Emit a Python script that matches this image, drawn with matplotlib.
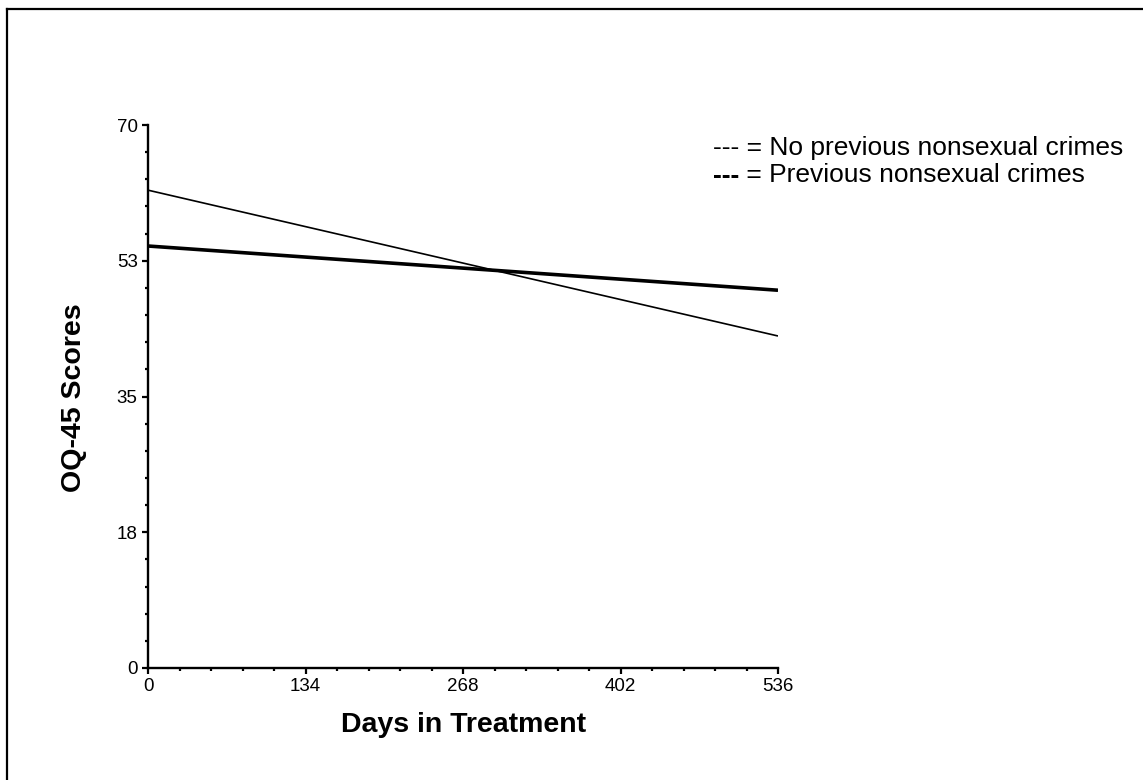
import matplotlib
matplotlib.use("Agg")
import matplotlib.pyplot as plt
from matplotlib.lines import Line2D
from matplotlib.ticker import MultipleLocator

plt.rcParams['font.family'] = ['Liberation Sans', 'DejaVu Sans']

# data (straight regression lines, end points)
days = [0, 536]
no_prev = [61.6, 42.8]      # thin line
prev = [54.4, 48.7]         # thick line

x_ticks = [0, 134, 268, 402, 536]
y_ticks = [0, 17.5, 35, 52.5, 70]
y_labels = ["0", "18", "35", "53", "70"]

W, H = 1143, 780
fig = plt.figure(figsize=(W / 100, H / 100), dpi=100)
ax = fig.add_axes([148/W, 1 - 668/H, 630/W, 543/H])

ax.plot(days, no_prev, color="black", lw=1.2, solid_capstyle="butt")
ax.plot(days, prev, color="black", lw=2.6, solid_capstyle="butt")

ax.set_xlim(0, 536)
ax.set_ylim(0, 70)
ax.set_xticks(x_ticks)
ax.set_xticklabels([str(v) for v in x_ticks])
ax.set_yticks(y_ticks)
ax.set_yticklabels(y_labels)
ax.xaxis.set_minor_locator(MultipleLocator(134 / 5))
ax.yaxis.set_minor_locator(MultipleLocator(3.5))

for s in ["top", "right"]:
    ax.spines[s].set_visible(False)
for s in ["left", "bottom"]:
    ax.spines[s].set_linewidth(1.7)

ax.tick_params(which="major", direction="out", length=4.5, width=1.6,
               labelsize=13.5, pad=3)
ax.tick_params(which="minor", direction="out", length=2.4, width=1.6)

# axis titles
fig.text(463.5/W, 1 - 732/H, "Days in Treatment", fontsize=20.5,
         fontweight="bold", ha="center", va="baseline")
fig.text(87/W, 1 - 398/H, "OQ-45 Scores", fontsize=20.5, fontweight="bold",
         rotation=90, ha="right", va="center")

# key text
fig.text(713/W, 1 - 155/H, "--- = No previous nonsexual crimes",
         fontsize=19, va="baseline", ha="left")
dash = fig.text(713/W, 1 - 182.5/H, "---", fontsize=19, fontweight="bold",
                va="baseline", ha="left")
ax.annotate(" = Previous nonsexual crimes", xy=(1, 0), xycoords=dash,
            fontsize=19, va="bottom", ha="left", annotation_clip=False)

# frame lines on the left and top of the figure
fig.add_artist(Line2D([6.5/W, 6.5/W], [0, 1 - 8.5/H], color="black", lw=1.6))
fig.add_artist(Line2D([6.5/W, 1], [1 - 8.5/H, 1 - 8.5/H], color="black", lw=1.6))

fig.savefig("out.png", dpi=100)
